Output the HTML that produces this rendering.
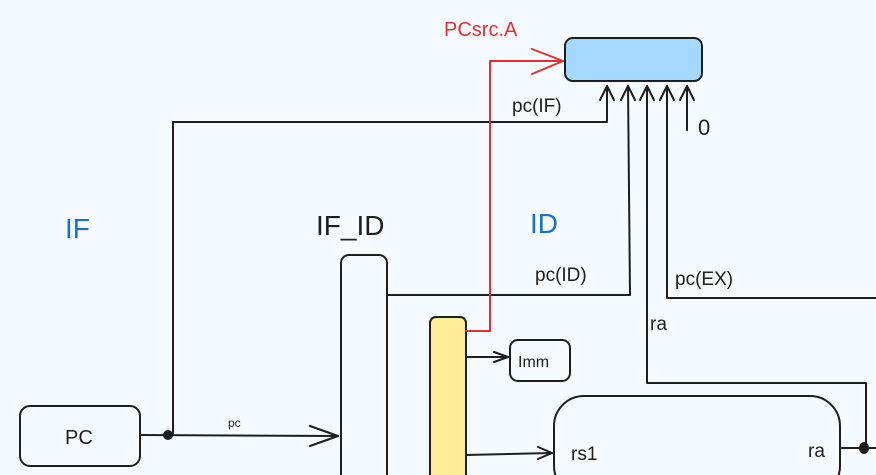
<!DOCTYPE html>
<html><head><style>
html,body{margin:0;padding:0;background:#f5faff;width:876px;height:475px;overflow:hidden;}
svg{display:block}
text{font-family:"Liberation Sans",sans-serif;}
</style></head><body>
<svg width="876" height="475" viewBox="0 0 876 475" xmlns="http://www.w3.org/2000/svg" overflow="hidden">
<rect width="876" height="475" fill="#f5faff"/>
<g fill="none" stroke="#1e1e1e" stroke-width="2" stroke-linecap="round" stroke-linejoin="round">
<rect x="565" y="38" width="137" height="43" rx="8" fill="#a5d8ff"/>
<polyline points="173,435 173,122 607,122 607,86"/>
<polyline points="600,100 607,86 614,100"/>
<polyline points="388,295 630,295 628,86"/>
<polyline points="621,100 628,86 635,100"/>
<polyline points="866,448 866,383 647,383 647,86"/>
<polyline points="640,100 647,86 654,100"/>
<polyline points="876,298 667,298 667,86"/>
<polyline points="660,100 667,86 674,100"/>
<line x1="687" y1="130" x2="687" y2="86"/>
<polyline points="680,100 687,86 694,100"/>
<rect x="20" y="406" width="120" height="60" rx="10"/>
<line x1="140" y1="435" x2="338" y2="436"/>
<polyline points="310,426 338,436 310,446"/>
<rect x="341" y="255" width="46" height="230" rx="8"/>
<rect x="430" y="317" width="36" height="168" rx="6" fill="#ffec99"/>
<line x1="466" y1="357" x2="508" y2="357"/>
<polyline points="494,352 508,357 494,362"/>
<rect x="510" y="340" width="60" height="41" rx="8"/>
<line x1="466" y1="455" x2="552" y2="453"/>
<polyline points="538,447 552,453 538,459"/>
<rect x="554" y="396" width="286" height="100" rx="30"/>
<line x1="842" y1="448" x2="876" y2="448"/>
</g>
<circle cx="168" cy="435" r="5" fill="#1e1e1e"/>
<ellipse cx="864" cy="448" rx="5" ry="6" fill="#1e1e1e"/>
<g fill="none" stroke="#e03131" stroke-width="2" stroke-linecap="round" stroke-linejoin="round">
<polyline points="466,331 490,331 490,61 563,61"/>
<polyline points="532,49 563,61 532,74"/>
</g>
<text x="444" y="36" font-size="20" fill="#e03131">PCsrc.A</text>
<text x="65" y="238" font-size="28" fill="#1971c2">IF</text>
<text x="316" y="235" font-size="28" fill="#1e1e1e">IF_ID</text>
<text x="530" y="233" font-size="28" fill="#1971c2">ID</text>
<text x="512" y="112" font-size="19" fill="#1e1e1e">pc(IF)</text>
<text x="535" y="281" font-size="19" fill="#1e1e1e">pc(ID)</text>
<text x="675" y="285" font-size="19" fill="#1e1e1e">pc(EX)</text>
<text x="650" y="330" font-size="19" fill="#1e1e1e">ra</text>
<text x="698" y="135" font-size="22" fill="#1e1e1e">0</text>
<text x="65" y="444" font-size="20" fill="#1e1e1e">PC</text>
<text x="228" y="427" font-size="12" fill="#1e1e1e">pc</text>
<text x="518" y="367" font-size="16" fill="#1e1e1e">Imm</text>
<text x="571" y="460" font-size="19" fill="#1e1e1e">rs1</text>
<text x="808" y="457" font-size="19" fill="#1e1e1e">ra</text>
</svg>
</body></html>
